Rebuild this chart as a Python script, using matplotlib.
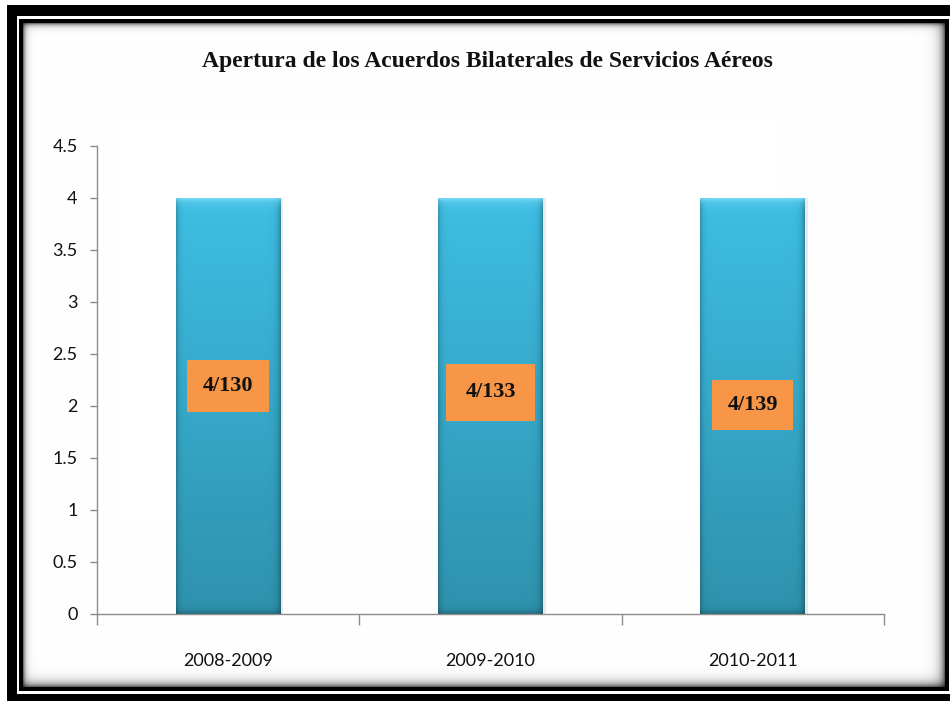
import numpy as np
import matplotlib
matplotlib.use("Agg")
import matplotlib.pyplot as plt
from matplotlib import font_manager
from matplotlib.ticker import FixedLocator, FuncFormatter

# ---------------- data ----------------
title = "Apertura de los Acuerdos Bilaterales de Servicios Aéreos"
categories = ["2008-2009", "2009-2010", "2010-2011"]
values = [4, 4, 4]
labels = ["4/130", "4/133", "4/139"]
yticks = [0, 0.5, 1, 1.5, 2, 2.5, 3, 3.5, 4, 4.5]

# ---------------- layout / style ----------------
label_y = [2.19, 2.13, 2.01]
label_pad = [0.72, 0.85, 0.68]

W, H = 950, 701
names = {f.name for f in font_manager.fontManager.ttflist}
tick_font = "Lato" if "Lato" in names else "Roboto"
tick_size = 13
serif_font = "Liberation Serif"

fig = plt.figure(figsize=(W / 100, H / 100), dpi=100)

# background frame (decoration) as a pixel image
bg = np.ones((H, W, 3))
bg[5:, 7:] = 0.0
bg[16:694, 17:] = 1.0
bg[19:691, 19:949] = 0.0
r = np.arange(23, 687)[:, None].astype(float)
c = np.arange(23, 945)[None, :].astype(float)
shade = ((1 - 0.55 * np.exp(-(r - 23) / 2.5)) *
         (1 - 0.55 * np.exp(-(c - 23) / 2.5)) *
         (1 - 0.6 * np.exp(-(944 - c) / 4.5)) *
         (1 - 0.6 * np.exp(-(686 - r) / 4.5)))
bg[23:687, 23:945] = shade[..., None]
bax = fig.add_axes([0, 0, 1, 1], zorder=-5)
bax.imshow(bg, aspect="auto", interpolation="nearest", extent=(0, W, H, 0))
bax.axis("off")

ax = fig.add_axes([97 / W, 1 - 614 / H, 787 / W, 468 / H])
ax.set_facecolor("none")
x = np.arange(len(categories))
bars = ax.bar(x, values, width=0.4, color="none", edgecolor="none", zorder=2)

# gradient fill for bars
ny, nx = 400, 105
t = np.linspace(0, 1, ny)[:, None]
top_c = np.array([0x3e, 0xbe, 0xe4]) / 255
bot_c = np.array([0x2e, 0x92, 0xad]) / 255
img = top_c * (1 - t[..., None]) + bot_c * t[..., None]
img = np.repeat(img, nx, axis=1)
u = np.arange(nx)[None, :]
edge = 1 - 0.22 * np.exp(-u / 2.5) - 0.28 * np.exp(-(nx - 1 - u) / 3.0)
img = img * edge[..., None]
bev = np.arange(ny)[:, None]
hl = np.exp(-bev / 4.0)
img = img + hl[..., None] * (np.array([0.55, 0.9, 1.0]) - img) * 0.7
botshade = 1 - 0.25 * np.exp(-(ny - 1 - bev) / 3.0)
img = img * botshade[..., None]
img = np.clip(img, 0, 1)
for b in bars:
    x0, y0 = b.get_x(), b.get_y()
    # soft shadow on the right side
    ax.bar(x0 + b.get_width() + 0.005, b.get_height(), width=0.01, align="center",
           color="#9a9a9a", alpha=0.2, zorder=1.5, edgecolor="none")
    im = ax.imshow(img, extent=(x0, x0 + b.get_width(), y0, y0 + b.get_height()),
                   aspect="auto", interpolation="bilinear", zorder=2, origin="upper")
    im.set_clip_path(b)

for xi, ly, lab, pd in zip(x, label_y, labels, label_pad):
    ax.text(xi, ly, lab, ha="center", va="center", fontsize=16, fontweight="bold",
            family=serif_font, color="#111111", zorder=4,
            bbox=dict(boxstyle=f"square,pad={pd}", fc="#f79646", ec="none"))

ax.set_xlim(-0.5, len(categories) - 0.5)
ax.set_ylim(0, 4.5)
ax.yaxis.set_major_locator(FixedLocator(yticks))
ax.yaxis.set_major_formatter(FuncFormatter(lambda v, p: f"{v:g}"))
ax.set_xticks(x)
ax.set_xticklabels(categories)
ax.xaxis.set_minor_locator(FixedLocator(np.arange(-0.5, len(categories), 1.0)))

for s in ["top", "right"]:
    ax.spines[s].set_visible(False)
for s in ["left", "bottom"]:
    ax.spines[s].set_color("#8c8c8c")
    ax.spines[s].set_linewidth(1.0)
ax.tick_params(axis="y", length=5, width=1, color="#8c8c8c", pad=9,
               labelsize=tick_size, labelcolor="#111111")
ax.tick_params(axis="x", which="major", length=0, pad=28,
               labelsize=tick_size, labelcolor="#111111")
ax.tick_params(axis="x", which="minor", length=8, width=1, color="#8c8c8c")
for lab in ax.get_xticklabels() + ax.get_yticklabels():
    lab.set_family(tick_font)

fig.text(487 / W, 1 - 62 / H, title, ha="center", va="center",
         fontsize=17, fontweight="bold", family=serif_font, color="#111111")

fig.savefig("out.png", dpi=100)
